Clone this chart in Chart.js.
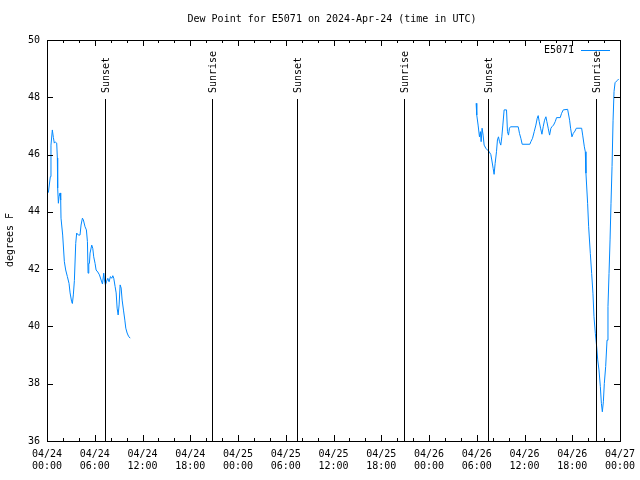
<!DOCTYPE html>
<html>
<head>
<meta charset="utf-8">
<script src="https://cdn.jsdelivr.net/npm/chart.js@4.4.1/dist/chart.umd.min.js"></script>
<style>
  html, body { margin: 0; padding: 0; background: #fff; }
  canvas { display: block; }
</style>
</head>
<body>
<canvas id="dewChart" width="640" height="480"></canvas>
<script>
// hours since 04/24 00:00 UTC, null = gap in the record
const obsHours = [
  0.17, 0.42, 0.50, 0.67, 0.80, 0.92, 1.05, 1.22, 1.30, 1.34, 1.43, 1.51, 1.64, 1.72, 1.76, 1.97,
  2.18, 2.35, 2.56, 2.77, 2.90, 3.10, 3.19, 3.31, 3.44, 3.61, 3.73, 3.94, 4.15, 4.28, 4.45, 4.57,
  4.78, 4.95, 5.08, 5.16, 5.25, 5.33, 5.41, 5.62, 5.75, 5.87, 6.04, 6.17, 6.38, 6.59, 6.80, 6.97,
  7.13, 7.22, 7.34, 7.47, 7.64, 7.80, 7.97, 8.14, 8.27, 8.39, 8.56, 8.69, 8.81, 8.94, 9.06, 9.19,
  9.32, 9.44, 9.61, 9.78, 9.90, 10.07, 10.24, 10.45,
  30,
  53.92, 54.00, 54.17, 54.34, 54.46, 54.55, 54.67, 54.80, 54.93, 55.14, 55.35, 55.56, 55.77, 55.89,
  56.06, 56.18, 56.31, 56.48, 56.60, 56.73, 56.86, 57.02, 57.15, 57.28, 57.44, 57.74, 57.86, 57.99,
  58.11, 58.24, 59.21, 59.37, 59.54, 59.71, 60.67, 60.80, 61.01, 61.22, 61.43, 61.60, 61.72, 61.85,
  62.02, 62.19, 62.35, 62.52, 62.69, 62.81, 62.98, 63.15, 63.32, 63.44, 63.65, 63.86, 64.03, 64.49,
  64.66, 64.87, 65.42, 65.67, 65.79, 65.96, 66.13, 66.34, 66.51, 67.18, 67.31, 67.52, 67.64, 67.72,
  67.93, 68.06, 68.27, 68.44, 68.60, 68.73, 68.90, 69.07, 69.20, 69.36, 69.53, 69.66, 69.78, 69.91,
  70.03, 70.20, 70.37, 70.49, 70.62, 70.75, 70.87, 71.00, 71.13, 71.25, 71.38, 71.63, 71.84
];
const obsDewF = [
  44.67, 45.23, 46.33, 46.86, 46.60, 46.40, 46.44, 46.40, 45.88, 44.83, 44.30, 44.53, 44.66, 44.41, 43.78, 43.19,
  42.26, 41.97, 41.74, 41.50, 41.17, 40.86, 40.80, 41.10, 41.60, 42.90, 43.26, 43.19, 43.19, 43.54, 43.78, 43.72,
  43.48, 43.37, 42.96, 41.86, 42.20, 42.20, 42.56, 42.84, 42.73, 42.43, 42.20, 41.97, 41.90, 41.80, 41.62, 41.48,
  41.86, 41.62, 41.45, 41.56, 41.68, 41.56, 41.74, 41.68, 41.77, 41.68, 41.39, 41.17, 40.64, 40.40, 40.75, 41.45,
  41.34, 40.92, 40.57, 40.22, 39.94, 39.77, 39.66, 39.59,
  null,
  47.79, 47.38, 47.03, 46.62, 46.80, 46.45, 46.92, 46.68, 46.33, 46.22, 46.16, 46.10, 46.00, 45.81,
  45.52, 45.31, 45.69, 46.10, 46.51, 46.62, 46.45, 46.33, 46.62, 47.03, 47.56, 47.56, 46.80, 46.68,
  46.92, 46.97, 46.97, 46.74, 46.57, 46.36, 46.36, 46.45, 46.57, 46.80, 47.03, 47.27, 47.36, 47.15,
  46.92, 46.71, 46.97, 47.20, 47.32, 47.15, 46.92, 46.68, 46.92, 46.97, 47.03, 47.15, 47.29, 47.29,
  47.44, 47.56, 47.58, 47.20, 46.92, 46.62, 46.74, 46.82, 46.92, 46.92, 46.68, 46.27, 46.10, 45.35,
  44.30, 43.48, 42.55, 41.85, 41.16, 40.34, 39.76, 39.29, 38.83, 38.48, 37.90, 37.31, 37.02, 37.37,
  38.01, 38.60, 39.52, 40.69, 41.85, 43.02, 44.30, 45.58, 47.20, 48.20, 48.51, 48.58, 48.64
];

const eventNames = ['Sunset', 'Sunrise', 'Sunset', 'Sunrise', 'Sunset', 'Sunrise'];
const eventHours = [7.29, 20.73, 31.41, 44.86, 55.4, 69.0];

const xTickLabels = [
  ['04/24', '00:00'], ['04/24', '06:00'], ['04/24', '12:00'], ['04/24', '18:00'],
  ['04/25', '00:00'], ['04/25', '06:00'], ['04/25', '12:00'], ['04/25', '18:00'],
  ['04/26', '00:00'], ['04/26', '06:00'], ['04/26', '12:00'], ['04/26', '18:00'],
  ['04/27', '00:00']
];

const FONT = '10px "DejaVu Sans Mono", monospace';
const LINE_COLOR = 'rgb(0,136,255)';

// frame, inward ticks, sunrise/sunset markers, title, legend
const decorPlugin = {
    id: 'decor',
    afterDraw(chart) {
        const ctx = chart.ctx;
        const a = chart.chartArea;
        const xs = chart.scales.x;
        const ys = chart.scales.y;
        ctx.save();
        ctx.strokeStyle = '#000';
        ctx.lineWidth = 1;

        // frame
        ctx.strokeRect(Math.round(a.left) + 0.5, Math.round(a.top) + 0.5,
            Math.round(a.right - a.left), Math.round(a.bottom - a.top));

        // x ticks every 2 hours
        ctx.beginPath();
        for (let h = 0; h <= 72; h += 2) {
            const px = Math.round(xs.getPixelForValue(h)) + 0.5;
            const len = h % 6 === 0 ? 6 : 3;
            ctx.moveTo(px, a.bottom); ctx.lineTo(px, a.bottom - len);
            ctx.moveTo(px, a.top); ctx.lineTo(px, a.top + len);
        }
        // y ticks
        for (let v = 36; v <= 50; v += 2) {
            const py = Math.round(ys.getPixelForValue(v)) + 0.5;
            ctx.moveTo(a.left, py); ctx.lineTo(a.left + 6, py);
            ctx.moveTo(a.right, py); ctx.lineTo(a.right - 6, py);
        }
        ctx.stroke();

        // sunrise / sunset lines
        ctx.font = FONT;
        ctx.fillStyle = '#000';
        eventHours.forEach((h, i) => {
            const px = Math.round(xs.getPixelForValue(h)) + 0.5;
            const yTop = Math.round(ys.getPixelForValue(48)) + 2;
            ctx.beginPath();
            ctx.moveTo(px, yTop);
            ctx.lineTo(px, a.bottom);
            ctx.stroke();
            ctx.save();
            ctx.translate(px + 1, yTop - 6);
            ctx.rotate(-Math.PI / 2);
            ctx.textAlign = 'left';
            ctx.textBaseline = 'middle';
            ctx.fillText(eventNames[i], 0, 0);
            ctx.restore();
        });

        // title
        ctx.textAlign = 'center';
        ctx.textBaseline = 'middle';
        ctx.fillText('Dew Point for E5071 on 2024-Apr-24 (time in UTC)', 332, 19);

        // y axis title
        ctx.save();
        ctx.translate(10, 240);
        ctx.rotate(-Math.PI / 2);
        ctx.fillText('degrees F', 0, 0);
        ctx.restore();

        // legend
        ctx.textAlign = 'right';
        ctx.fillText('E5071', 574, 50);
        ctx.strokeStyle = LINE_COLOR;
        ctx.beginPath();
        ctx.moveTo(581, 50.5);
        ctx.lineTo(610, 50.5);
        ctx.stroke();

        ctx.restore();
    }
};

new Chart(document.getElementById('dewChart').getContext('2d'), {
    type: 'line',
    data: {
        datasets: [{
            label: 'E5071',
            data: obsHours.map((h, i) => ({ x: h, y: obsDewF[i] })),
            borderColor: LINE_COLOR,
            borderWidth: 1,
            pointRadius: 0,
            tension: 0,
            spanGaps: false
        }]
    },
    options: {
        responsive: false,
        animation: false,
        layout: { padding: { top: 40, right: 20, left: 0, bottom: 0 } },
        plugins: {
            legend: { display: false },
            title: { display: false },
            tooltip: { enabled: false }
        },
        scales: {
            x: {
                type: 'linear',
                min: 0,
                max: 72,
                afterFit: s => {
                    s.height = 39;
                    s.paddingLeft = 0;
                    s.paddingRight = 0;
                },
                grid: { display: false, drawTicks: false },
                border: { display: false },
                ticks: {
                    stepSize: 6,
                    autoSkip: false,
                    maxRotation: 0,
                    padding: 7,
                    color: '#000',
                    font: { family: '"DejaVu Sans Mono", monospace', size: 10, lineHeight: 1.2 },
                    callback: (v, i) => xTickLabels[i]
                }
            },
            y: {
                min: 36,
                max: 50,
                afterFit: s => { s.width = 47; },
                grid: { display: false, drawTicks: false },
                border: { display: false },
                ticks: {
                    stepSize: 2,
                    padding: 7,
                    color: '#000',
                    font: { family: '"DejaVu Sans Mono", monospace', size: 10 }
                }
            }
        }
    },
    plugins: [decorPlugin]
});
</script>
</body>
</html>
